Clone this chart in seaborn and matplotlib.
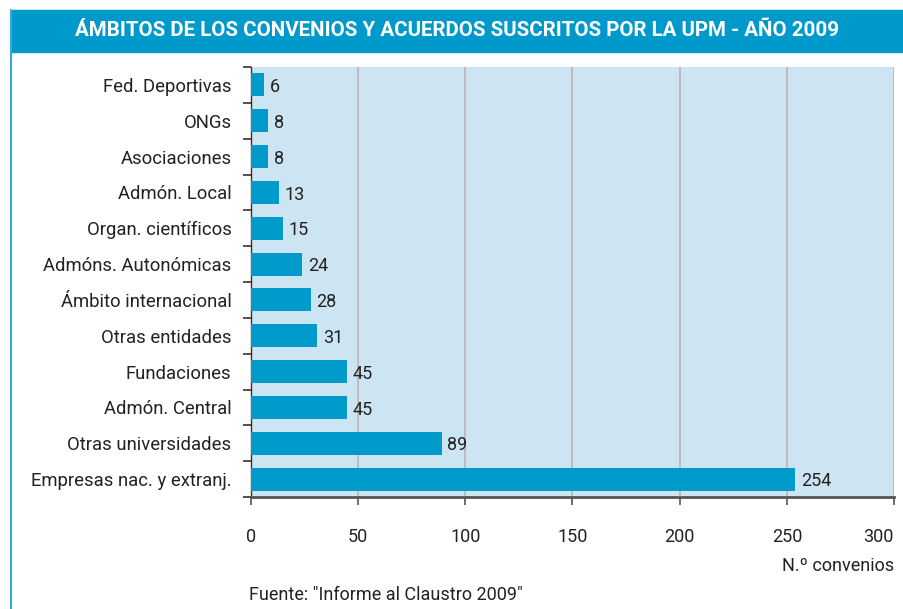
import matplotlib
matplotlib.use("Agg")
import matplotlib.pyplot as plt
import seaborn as sns
import pandas as pd
import numpy as np
from matplotlib.ticker import FixedLocator

categories = ["Fed. Deportivas", "ONGs", "Asociaciones", "Admón. Local",
              "Organ. científicos", "Admóns. Autonómicas", "Ámbito internacional",
              "Otras entidades", "Fundaciones", "Admón. Central",
              "Otras universidades", "Empresas nac. y extranj."]
values = [6, 8, 8, 13, 15, 24, 28, 31, 45, 45, 89, 254]
x_ticks = [0, 50, 100, 150, 200, 250, 300]

title = "ÁMBITOS DE LOS CONVENIOS Y ACUERDOS SUSCRITOS POR LA UPM - AÑO 2009"
xlabel = "N.º convenios"
source = 'Fuente: "Informe al Claustro 2009"'

sns.set_theme(style="white")
plt.rcParams['font.family'] = ['Roboto', 'DejaVu Sans']

df = pd.DataFrame({"cat": categories, "val": values})

W, H = 904, 609
fig = plt.figure(figsize=(W / 100, H / 100), dpi=100)
fig.patch.set_facecolor("white")

left, right, top, bottom = 251, 894, 67, 497
ax = fig.add_axes([left / W, 1 - bottom / H, (right - left) / W, (bottom - top) / H])
ax.set_facecolor("#CDE5F2")

sns.barplot(data=df, x="val", y="cat", orient="h", color="#009BCB",
            saturation=1, width=0.64, linewidth=0, ax=ax, zorder=3)

ax.set_xlim(0, 300)
ax.set_ylim(len(categories) - 0.5, -0.5)
ax.set_xticks(x_ticks)
ax.set_xticklabels([str(t) for t in x_ticks])
ax.get_xticklabels()[-1].set_ha("right")
ax.xaxis.grid(True, color="#BBBBBB", linewidth=1.4, zorder=0)
ax.yaxis.grid(False)
ax.set_axisbelow(True)

for s in ["top", "right"]:
    ax.spines[s].set_visible(False)
ax.spines["bottom"].set_color("#555555")
ax.spines["bottom"].set_linewidth(2)
ax.spines["left"].set_color("#333333")
ax.spines["left"].set_linewidth(1.0)

ax.tick_params(axis="x", direction="out", length=6, width=1.2, color="#555555",
               pad=16, labelsize=13, labelcolor="#222222", bottom=True)
ax.tick_params(axis="y", which="major", length=0, pad=14, labelsize=13.3,
               labelcolor="#222222")
ax.yaxis.set_minor_locator(FixedLocator(np.arange(-0.5, len(categories), 1.0)))
ax.tick_params(axis="y", which="minor", direction="out", length=6, width=1.2,
               color="#333333", left=True)
ax.set_xlabel("")
ax.set_ylabel("")

for i, v in enumerate(values):
    ax.text(v + 2.6, i + 0.06, str(v), va="center", ha="left", fontsize=13,
            color="#222222", zorder=4)

# title banner
fig.patches.append(plt.Rectangle((11 / W, 1 - 52 / H), 1 - 11 / W, 42 / H,
                                 transform=fig.transFigure, color="#0099CC", zorder=0))
fig.text(457 / W, 1 - 31 / H, title, ha="center", va="center", color="white",
         fontsize=14.8, fontweight="bold",
         family=["Roboto", "DejaVu Sans"])
# left border line
fig.add_artist(plt.Line2D([11 / W, 11 / W], [0, 1 - 10 / H], transform=fig.transFigure,
                          color="#33AADD", linewidth=1.5))

fig.text(894 / W, 1 - 566 / H, xlabel, ha="right", va="center", fontsize=13,
         color="#222222")
fig.text(249 / W, 1 - 595 / H, source, ha="left", va="center", fontsize=13,
         color="#222222")

fig.savefig("out.png", dpi=100)
